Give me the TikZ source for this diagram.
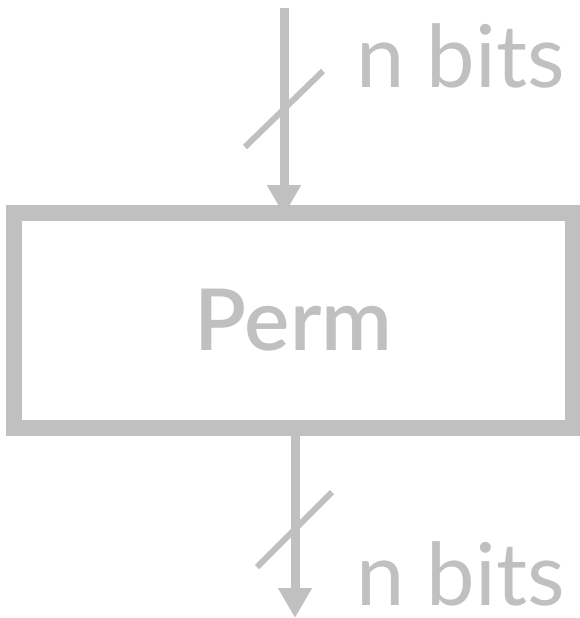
\documentclass[tikz,border=0pt]{standalone}
\usepackage{fontspec}
\setmainfont{Lato}
\newfontfamily\blockfont{Lato Semibold}
\usepackage{tikz}
\usetikzlibrary{arrows.meta}
\definecolor{wire}{RGB}{192,192,192}

\begin{document}
\begin{tikzpicture}[x=0.75pt, y=-0.75pt,
  >={Triangle[length=22.5pt, width=24pt]},
  block/.style={draw=wire, line width=12pt, minimum width=419pt, minimum height=161pt,
    inner sep=0pt, text=wire, font=\fontsize{64}{70}\selectfont\blockfont},
  bus/.style={draw=wire, line width=6.75pt},
  buswidth/.style={draw=wire, line width=4.5pt},
  buslabel/.style={anchor=base west, inner sep=0pt, text depth=0pt, text=wire,
    font=\fontsize{65}{70}\selectfont}]

\useasboundingbox (0,0) rectangle (580,618);

\draw(293.5,320.5) node[block] (perm) {Perm};
\coordinate (in) at (284,8);
\coordinate (out) at (295,618);
\draw[bus, ->] (in) -- ([yshift=-7.5pt]perm.north -| in);
\draw[bus, ->] (perm.south -| out) -- (out);

% bus width ticks
\coordinate (tin) at (284,109);
\coordinate (tout) at (294.5,529.5);
\draw[buswidth] ([shift={(-39,38)}]tin) -- ([shift={(39,-38)}]tin);
\draw[buswidth] ([shift={(-37.5,37.5)}]tout) -- ([shift={(37.5,-37.5)}]tout);
\draw(356,87) node[buslabel] (nin) {n bits};
\draw(356,605) node[buslabel] (nout) {n bits};

\end{tikzpicture}
\end{document}
